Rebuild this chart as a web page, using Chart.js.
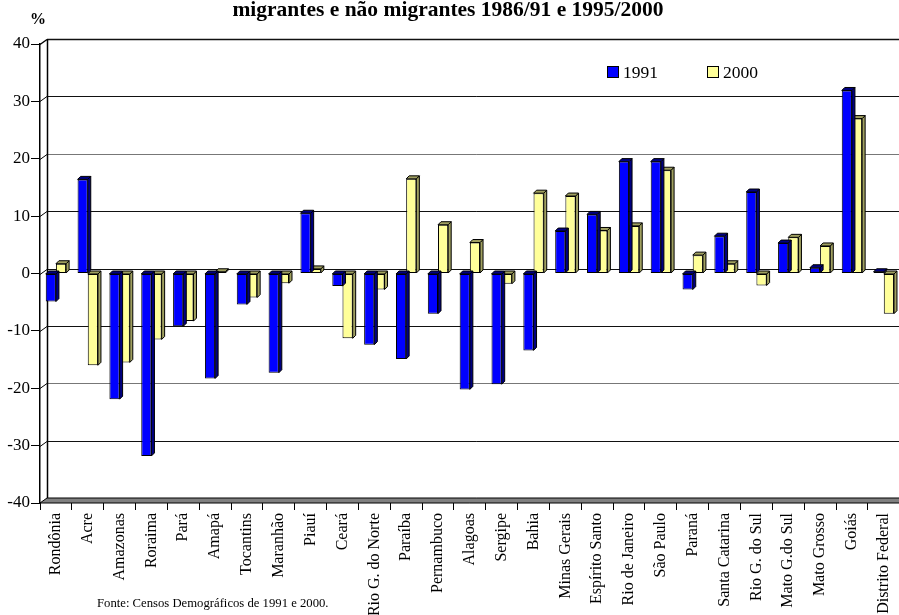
<!DOCTYPE html>
<html>
<head>
<meta charset="utf-8">
<script src="https://cdn.jsdelivr.net/npm/chart.js@4.4.0/dist/chart.umd.min.js"></script>
<style>
  html, body { margin: 0; padding: 0; background: #fff; overflow: hidden; }
  #wrap { position: relative; width: 899px; height: 615px; overflow: hidden;
          font-family: "Liberation Serif", "Times New Roman", serif; color: #000; }
  #chart { position: absolute; left: 0; top: 0; }
  .title { position: absolute; left: 0; top: -3px; width: 896px; text-align: center;
           font-weight: bold; font-size: 21.5px; white-space: nowrap; }
  .pct { position: absolute; left: 30px; top: 10px; font-weight: bold; font-size: 16px; }
  .source { position: absolute; left: 97px; top: 596px; font-size: 12.7px; }
  .legend { position: absolute; left: 607px; top: 62px; font-size: 17.5px; line-height: 20px; }
  .legend span.item { display: inline-block; width: 100px; }
  .legend i { display: inline-block; width: 10px; height: 10px; border: 1px solid #000;
              margin-right: 4px; vertical-align: 0px; }
</style>
</head>
<body>
<div id="wrap">
  <canvas id="chart" width="906" height="615"></canvas>
  <div class="title">migrantes e não migrantes 1986/91 e 1995/2000</div>
  <div class="pct">%</div>
  <div class="legend" id="legend"></div>
  <div class="source">Fonte: Censos Demográficos de 1991 e 2000.</div>
</div>
<script>
const categories = ["Rondônia", "Acre", "Amazonas", "Roraima", "Pará", "Amapá", "Tocantins",
  "Maranhão", "Piauí", "Ceará", "Rio G. do Norte", "Paraíba", "Pernambuco", "Alagoas",
  "Sergipe", "Bahia", "Minas Gerais", "Espírito Santo", "Rio de Janeiro", "São Paulo",
  "Paraná", "Santa Catarina", "Rio G. do Sul", "Mato G.do Sul", "Mato Grosso", "Goiás",
  "Distrito Federal"];

const seriesNames = ["1991", "2000"];

const values1991 = [-4.9, 16.4, -21.9, -31.8, -9.2, -18.3, -5.4, -17.3, 10.5, -2.2, -12.4,
  -14.9, -7.0, -20.2, -19.3, -13.4, 7.4, 10.3, 19.5, 19.5, -2.8, 6.5, 14.2, 5.3, 1.0, 31.9, 0.3];

const values2000 = [1.7, -16.0, -15.5, -11.5, -8.3, 0.3, -4.2, -1.7, 0.8, -11.3, -2.8,
  16.5, 8.5, 5.4, -1.8, 14.0, 13.5, 7.5, 8.3, 18.0, 3.2, 1.7, -2.1, 6.3, 4.8, 27.0, -7.0];

const yTicks = [40, 30, 20, 10, 0, -10, -20, -30, -40];

const frontColors = ["#0000ff", "#ffff99"];
const sideColors = ["#000080", "#a0a060"];

// wall / floor offset and bar depth
const WX = 7, WY = 5, BD = 3;

const walls = {
  id: "walls",
  beforeDatasetsDraw(chart) {
    const ctx = chart.ctx;
    const a = chart.chartArea;
    const y = chart.scales.y;
    ctx.save();
    // floor
    ctx.fillStyle = "#808080";
    ctx.strokeStyle = "#000";
    ctx.lineWidth = 1;
    ctx.beginPath();
    ctx.moveTo(a.left, a.bottom);
    ctx.lineTo(a.right, a.bottom);
    ctx.lineTo(a.right + WX, a.bottom - WY);
    ctx.lineTo(a.left + WX, a.bottom - WY);
    ctx.closePath();
    ctx.fill();
    ctx.stroke();
    // back gridlines
    yTicks.forEach(v => {
      if (v === -40) return;
      const py = Math.round(y.getPixelForValue(v) - WY) + 0.5;
      ctx.strokeStyle = (v === 20 || v === -20) ? "#777" : "#111";
      ctx.lineWidth = v === 40 ? 1.5 : 1;
      ctx.beginPath();
      ctx.moveTo(a.left + WX, py);
      ctx.lineTo(a.right + WX, py);
      ctx.stroke();
      // little connector from the axis to the wall
      ctx.strokeStyle = "#000";
      ctx.beginPath();
      ctx.moveTo(a.left, py + WY);
      ctx.lineTo(a.left + WX, py);
      ctx.stroke();
    });
    // left wall
    ctx.strokeStyle = "#000";
    ctx.lineWidth = 1.5;
    ctx.beginPath();
    ctx.moveTo(a.left + WX + 0.5, a.top - WY);
    ctx.lineTo(a.left + WX + 0.5, a.bottom - WY);
    ctx.stroke();
    ctx.restore();
  },
  afterDatasetDraw(chart, args) {
    const ctx = chart.ctx;
    const i = args.index;
    const meta = chart.getDatasetMeta(i);
    ctx.save();
    ctx.strokeStyle = "#000";
    ctx.lineWidth = 1;
    ctx.fillStyle = sideColors[i];
    meta.data.forEach(bar => {
      const p = bar.getProps(["x", "y", "base", "width"], true);
      const l = p.x - p.width / 2, r = p.x + p.width / 2;
      const top = Math.min(p.y, p.base), bot = Math.max(p.y, p.base);
      ctx.beginPath();
      ctx.moveTo(r, top);
      ctx.lineTo(r + BD, top - BD);
      ctx.lineTo(r + BD, bot - BD);
      ctx.lineTo(r, bot);
      ctx.closePath();
      ctx.fill();
      ctx.stroke();
      ctx.beginPath();
      ctx.moveTo(l, top);
      ctx.lineTo(l + BD, top - BD);
      ctx.lineTo(r + BD, top - BD);
      ctx.lineTo(r, top);
      ctx.closePath();
      ctx.fill();
      ctx.stroke();
    });
    ctx.restore();
  }
};

// html legend
const legendEl = document.getElementById("legend");
seriesNames.forEach((name, i) => {
  const item = document.createElement("span");
  item.className = "item";
  const box = document.createElement("i");
  box.style.background = frontColors[i];
  item.appendChild(box);
  item.appendChild(document.createTextNode(name));
  legendEl.appendChild(item);
});

const ctx = document.getElementById("chart").getContext("2d");
new Chart(ctx, {
  type: "bar",
  data: {
    labels: categories,
    datasets: [
      {
        label: seriesNames[0],
        data: values1991,
        backgroundColor: frontColors[0],
        borderColor: "#000",
        borderWidth: 1,
        borderSkipped: false,
      },
      {
        label: seriesNames[1],
        data: values2000,
        backgroundColor: frontColors[1],
        borderColor: "#000",
        borderWidth: 1,
        borderSkipped: false,
      },
    ],
  },
  options: {
    responsive: false,
    animation: false,
    layout: { padding: { top: 44, right: 1, left: 0, bottom: 0 } },
    datasets: { bar: { categoryPercentage: 0.64, barPercentage: 1 } },
    plugins: {
      legend: { display: false },
      tooltip: { enabled: false },
    },
    scales: {
      x: {
        offset: true,
        grid: {
          offset: true,
          drawOnChartArea: false,
          drawTicks: true,
          tickLength: 7,
          tickColor: "#000",
        },
        border: { display: false },
        ticks: {
          autoSkip: false,
          maxRotation: 90,
          minRotation: 90,
          padding: 3,
          color: "#000",
          font: { family: "'Liberation Serif', 'Times New Roman', serif", size: 16 },
        },
        afterFit(scale) { scale.height = 112; },
      },
      y: {
        min: -40,
        max: 40,
        afterBuildTicks(scale) { scale.ticks = yTicks.map(v => ({ value: v })); },
        grid: {
          drawOnChartArea: false,
          drawTicks: true,
          tickLength: 9,
          tickColor: "#000",
        },
        border: { display: true, color: "#000", width: 1.5 },
        ticks: {
          padding: 1,
          color: "#000",
          font: { family: "'Liberation Serif', 'Times New Roman', serif", size: 17 },
        },
        afterFit(scale) { scale.width = 40; },
      },
    },
  },
  plugins: [walls],
});
</script>
</body>
</html>
